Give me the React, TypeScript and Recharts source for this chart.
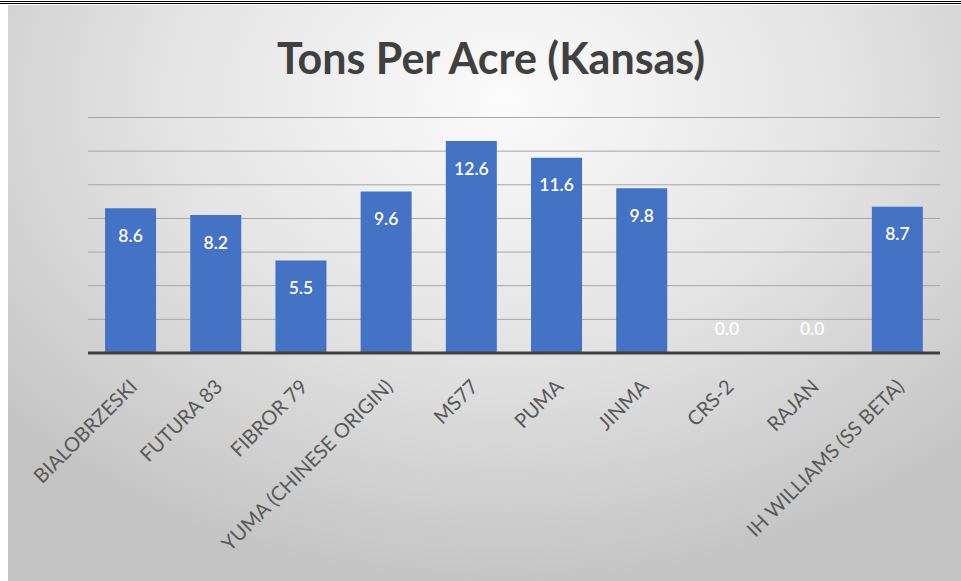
import { ComposedChart, Bar, Line, XAxis, YAxis, CartesianGrid, LabelList } from 'recharts'

const varieties = [
  'BIALOBRZESKI',
  'FUTURA 83',
  'FIBROR 79',
  'YUMA (CHINESE ORIGIN)',
  'MS77',
  'PUMA',
  'JINMA',
  'CRS-2',
  'RAJAN',
  'IH WILLIAMS (SS BETA)',
]
const tonsPerAcre = [8.6, 8.2, 5.5, 9.6, 12.6, 11.6, 9.8, 0.0, 0.0, 8.7]
const yTicks = [0, 2, 4, 6, 8, 10, 12, 14]

const data = varieties.map((name, i) => ({ name, value: tonsPerAcre[i] }))

const font = 'Lato, "Open Sans", sans-serif'

function AngledTick(props: any) {
  const { x, y, payload } = props
  return (
    <g transform={`translate(${x + 3},${y + 22})`}>
      <text
        transform="rotate(-45)"
        textAnchor="end"
        dy="0.35em"
        fill="#595959"
        fontSize={20}
        fontFamily={font}
      >
        {payload.value}
      </text>
    </g>
  )
}

// labels drawn from the line points (category centres), so zero values still get a label
function ValueLabel(props: any) {
  const { x, y, value } = props
  const cy = value === 0 ? y - 25 : y + 27
  return (
    <text
      x={x}
      y={cy}
      textAnchor="middle"
      dominantBaseline="central"
      fill="#ffffff"
      fontSize={17.5}
      fontWeight={600}
      fontFamily={font}
    >
      {Number(value).toFixed(1)}
    </text>
  )
}

export default function App() {
  return (
    <div style={{ position: 'fixed', left: 0, top: 0, width: 961, height: 581, background: '#ffffff', overflow: 'hidden' }}>
      <div style={{ position: 'absolute', left: 0, top: 1, width: 961, height: 1, background: '#000' }} />
      <div style={{ position: 'absolute', left: 0, top: 3, width: 961, height: 1, background: '#000' }} />
      <div
        style={{
          position: 'absolute',
          left: 8,
          top: 5,
          width: 953,
          height: 576,
          background: 'radial-gradient(ellipse 70% 85% at 52% 16%, #fbfbfb 0%, #e4e4e4 50%, #c4c4c4 100%)',
        }}
      />
      <div
        style={{
          position: 'absolute',
          left: 0,
          top: 30,
          width: 982,
          textAlign: 'center',
          fontFamily: font,
          fontWeight: 700,
          fontSize: 43,
          color: '#404040',
          lineHeight: '56px',
        }}
      >
        Tons Per Acre (Kansas)
      </div>
      <div style={{ position: 'absolute', left: 0, top: 0 }}>
        <ComposedChart width={961} height={581} data={data} margin={{ top: 117.5, right: 21, bottom: 0, left: 88 }} barCategoryGap="20%">
          <CartesianGrid vertical={false} stroke="#a6a6a6" strokeWidth={1} />
          <YAxis hide domain={[0, 14]} ticks={yTicks} />
          <XAxis
            dataKey="name"
            interval={0}
            height={228}
            tickLine={false}
            axisLine={{ stroke: '#404040', strokeWidth: 3 }}
            tick={<AngledTick />}
          />
          <Bar dataKey="value" fill="#4472c4" isAnimationActive={false} />
          <Line dataKey="value" stroke="none" dot={false} activeDot={false} isAnimationActive={false}>
            <LabelList dataKey="value" content={<ValueLabel />} />
          </Line>
        </ComposedChart>
      </div>
    </div>
  )
}
